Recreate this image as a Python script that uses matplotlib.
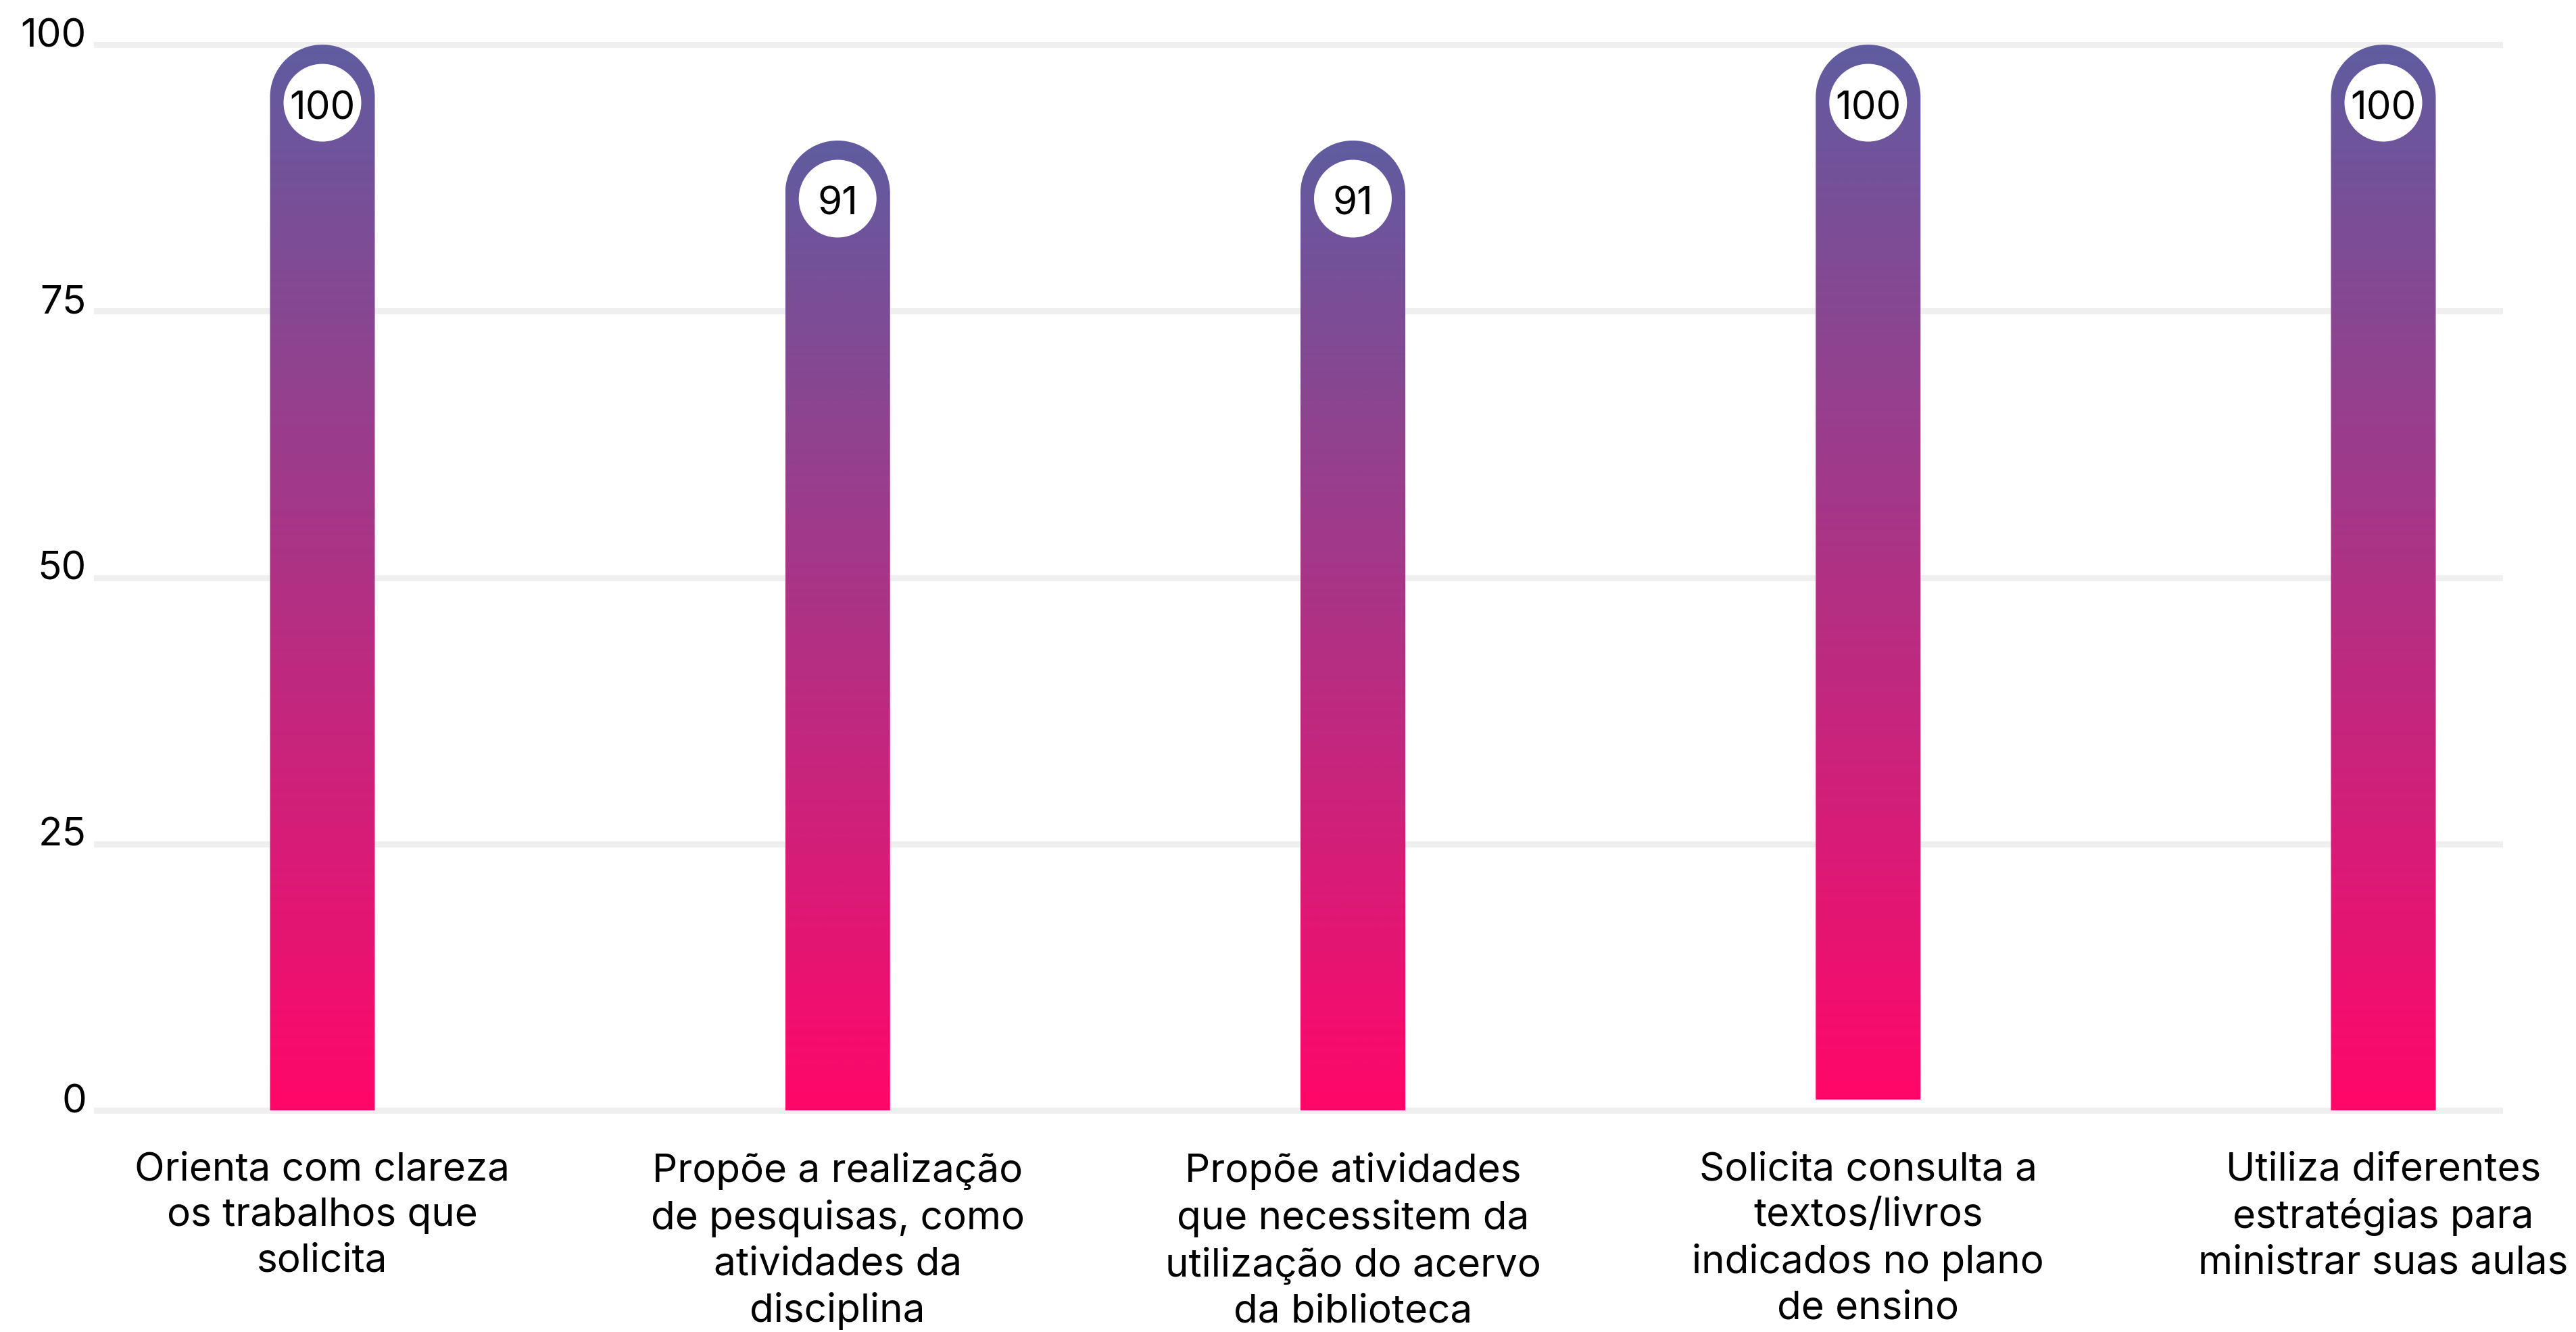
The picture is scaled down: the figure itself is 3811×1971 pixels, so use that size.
import numpy as np
import matplotlib
matplotlib.use("Agg")
import matplotlib.pyplot as plt
from matplotlib.path import Path
from matplotlib.patches import PathPatch
from matplotlib.colors import LinearSegmentedColormap
from matplotlib.transforms import ScaledTranslation

# ---- data ----
categories = [
    "Orienta com clareza\nos trabalhos que\nsolicita",
    "Propõe a realização\nde pesquisas, como\natividades da\ndisciplina",
    "Propõe atividades\nque necessitem da\nutilização do acervo\nda biblioteca",
    "Solicita consulta a\ntextos/livros\nindicados no plano\nde ensino",
    "Utiliza diferentes\nestratégias para\nministrar suas aulas",
]
values = [100, 91, 91, 100, 100]
bar_base = [0, 0, 0, 1, 0]
value_labels = ["100", "91", "91", "100", "100"]
y_ticks = [0, 25, 50, 75, 100]
y_tick_labels = ["0", "25", "50", "75", "100"]

# ---- style ----
FONT = ["Inter", "DejaVu Sans"]
plt.rcParams["font.family"] = FONT
FS = 42
W, H, DPI = 3811, 1971, 100
fig = plt.figure(figsize=(W / DPI, H / DPI), dpi=DPI)
ax = fig.add_axes([139 / W, 0.1584, (3703 - 139) / W, 0.8401])

top_color = "#605ca0"
bottom_color = "#ff0769"
cmap = LinearSegmentedColormap.from_list("grad", [bottom_color, top_color])

x = np.arange(len(categories))
xlim = (-0.4434, 4.2322)
ylim = (-1, 104)
ax.set_xlim(*xlim)
ax.set_ylim(*ylim)
bar_w = 0.2034

# data-units conversion for the rounded caps
p0 = ax.transData.transform((0, 0))
p1 = ax.transData.transform((1, 1))
px_x = p1[0] - p0[0]
px_y = p1[1] - p0[1]
rx = bar_w / 2
ry = rx * px_x / px_y

grad = np.linspace(0, 1, 512).reshape(-1, 1)
for xi, v, b in zip(x, values, bar_base):
    x0, x1 = xi - rx, xi + rx
    cy = v - ry
    t = np.linspace(0, np.pi, 80)
    arc = np.column_stack([xi + rx * np.cos(t), cy + ry * np.sin(t)])
    verts = np.vstack([[x0, b], [x1, b], [x1, cy], arc, [x0, cy], [x0, b]])
    codes = [Path.MOVETO] + [Path.LINETO] * (len(verts) - 2) + [Path.CLOSEPOLY]
    path = Path(verts, codes)
    patch = PathPatch(path, transform=ax.transData, facecolor="none", edgecolor="none")
    ax.add_patch(patch)
    im = ax.imshow(grad, extent=[x0, x1, b, v], origin="lower", aspect="auto",
                   cmap=cmap, zorder=2, interpolation="bilinear")
    im.set_clip_path(patch)

# white circles with value labels
circle_off = ScaledTranslation(0, -0.86, fig.dpi_scale_trans)
diam_pt = 115 * 72 / DPI
ax.scatter(x, values, s=diam_pt ** 2, color="white", edgecolors="none",
           zorder=3, transform=ax.transData + circle_off, clip_on=False)
for xi, v, lab in zip(x, values, value_labels):
    ax.annotate(lab, xy=(xi, v), xytext=(0, -(86 + 24) * 72 / DPI),
                textcoords="offset points", ha="center", va="baseline",
                fontsize=FS, color="black", zorder=4)

ax.set_xlim(*xlim)
ax.set_ylim(*ylim)

# axes styling
for s in ax.spines.values():
    s.set_visible(False)
ax.set_yticks(y_ticks)
ax.set_yticklabels(y_tick_labels, fontsize=FS, color="black")
ax.set_xticks(x)
ax.set_xticklabels(categories, fontsize=FS, color="black", linespacing=1.32)
ax.tick_params(axis="y", length=0, pad=8)
ax.tick_params(axis="x", length=0, pad=33)
ax.set_axisbelow(True)
ax.grid(axis="y", color="#efefef", linewidth=6.5)
ax.grid(axis="x", visible=False)
up = ScaledTranslation(0, 0.18, fig.dpi_scale_trans)
for lab in ax.get_yticklabels():
    lab.set_transform(lab.get_transform() + up)

fig.savefig("out.png", dpi=DPI, facecolor="white")
